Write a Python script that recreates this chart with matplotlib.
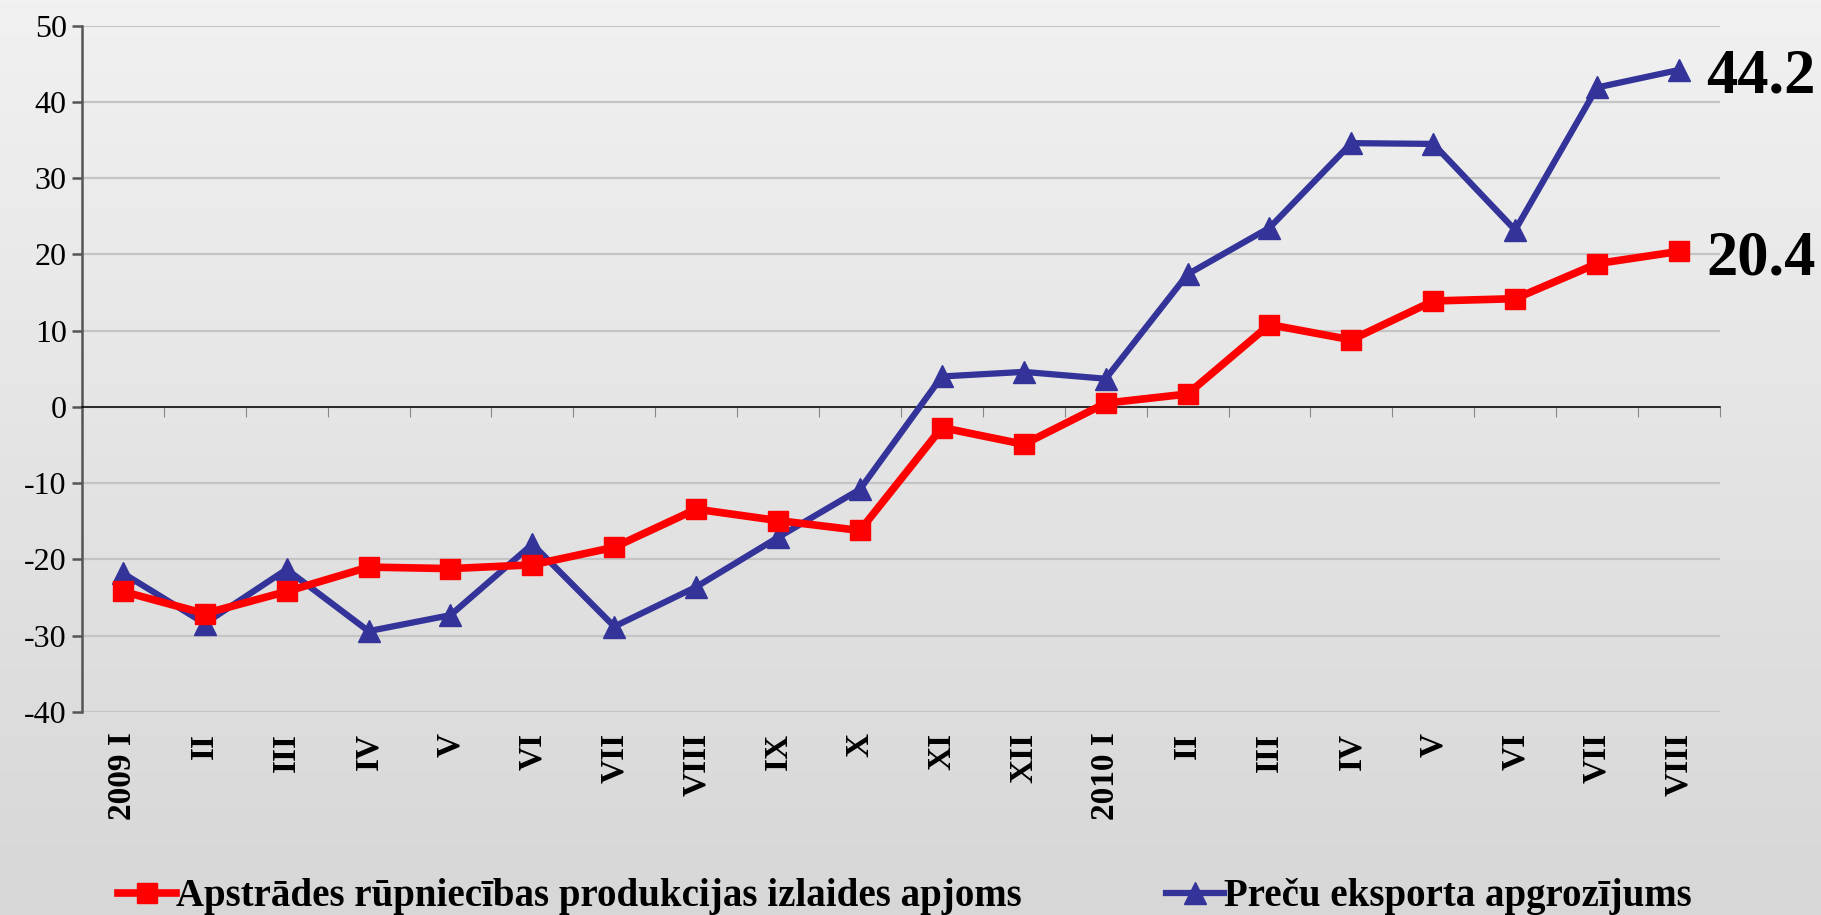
import matplotlib
matplotlib.use("Agg")
import matplotlib.pyplot as plt
from matplotlib.colors import LinearSegmentedColormap
from matplotlib.lines import Line2D
import matplotlib.transforms as mtransforms
import numpy as np

plt.rcParams['font.family'] = ['Liberation Serif', 'DejaVu Serif']
plt.rcParams['axes.unicode_minus'] = False

# ===== Data =====
months = ["2009 I", "II", "III", "IV", "V", "VI", "VII", "VIII", "IX", "X",
          "XI", "XII", "2010 I", "II", "III", "IV", "V", "VI", "VII", "VIII"]
manufacturing = [-24.2, -27.1, -24.2, -21.0, -21.2, -20.7, -18.4, -13.4, -14.9, -16.2,
                 -2.7, -4.9, 0.5, 1.7, 10.8, 8.8, 13.9, 14.2, 18.8, 20.4]
exports = [-21.8, -28.4, -21.3, -29.4, -27.3, -18.0, -28.8, -23.6, -17.1, -10.8,
           4.0, 4.6, 3.7, 17.4, 23.5, 34.6, 34.5, 23.2, 41.9, 44.2]
label_manuf = "Apstrādes rūpniecības produkcijas izlaides apjoms"
label_exp = "Preču eksporta apgrozījums"

RED = "#ff0000"
BLUE = "#333399"

fig = plt.figure(figsize=(18.21, 9.15), dpi=100)

# ===== background gradient =====
bg = fig.add_axes([0, 0, 1, 1], zorder=-10)
grad = np.linspace(0, 1, 256).reshape(-1, 1)
cmap = LinearSegmentedColormap.from_list("bg", ["#f1f1f1", "#d7d7d7"])
bg.imshow(grad, aspect="auto", cmap=cmap, extent=[0, 1, 0, 1])
bg.axis("off")

# ===== main axes =====
ax = fig.add_axes([0.045, 0.2219, 0.8995, 0.75])
ax.set_facecolor("none")
x = np.arange(len(months))

ax.plot(x, manufacturing, color=RED, lw=5.5, marker="s", ms=15, zorder=4)
ax.plot(x, exports, color=BLUE, lw=4.5, marker="^", ms=16, zorder=3)

ax.set_xlim(-0.5, len(months) - 0.5)
ax.set_ylim(-40, 50)
ax.set_yticks(range(-40, 51, 10))
ax.grid(axis="y", color="#c4c4c4", lw=1.6, zorder=0)
ax.set_axisbelow(True)

for s in ["top", "right"]:
    ax.spines[s].set_visible(False)
ax.spines["left"].set_color("#555555")
ax.spines["left"].set_linewidth(1.8)
ax.spines["bottom"].set_position(("data", 0))
ax.spines["bottom"].set_color("black")
ax.spines["bottom"].set_linewidth(1.1)

ax.set_xticks(np.arange(-0.5, len(months), 1))
ax.set_xticklabels([])
ax.tick_params(axis="x", direction="out", length=7, width=0.8, color="#888888")
ax.tick_params(axis="y", direction="out", length=7, width=1.8, color="#555555",
               labelsize=23, pad=4)

# category labels below the plot
trans = mtransforms.blended_transform_factory(ax.transData, ax.transAxes)
for i, lab in enumerate(months):
    ax.text(i, -0.03, lab, transform=trans, rotation=90, ha="center", va="top",
            fontsize=24, fontweight="bold")

# end-value labels
for series in (exports, manufacturing):
    ax.annotate(f"{series[-1]:.1f}", (x[-1], series[-1]), xytext=(27, -23),
                textcoords="offset pixels", va="baseline", ha="left",
                fontsize=45, fontweight="bold", annotation_clip=False)

# ===== legend =====
handles = [Line2D([], [], color=RED, lw=5.5, marker="s", ms=14.5),
           Line2D([], [], color=BLUE, lw=4.5, marker="^", ms=16)]
fig.legend(handles, [label_manuf, label_exp], loc="center", bbox_to_anchor=(0.497, 0.02),
           ncol=2, frameon=False, handlelength=1.5, handletextpad=0.0,
           columnspacing=3.7, prop={"size": 28, "weight": "bold"})

plt.savefig("out.png", dpi=100)
plt.close()
